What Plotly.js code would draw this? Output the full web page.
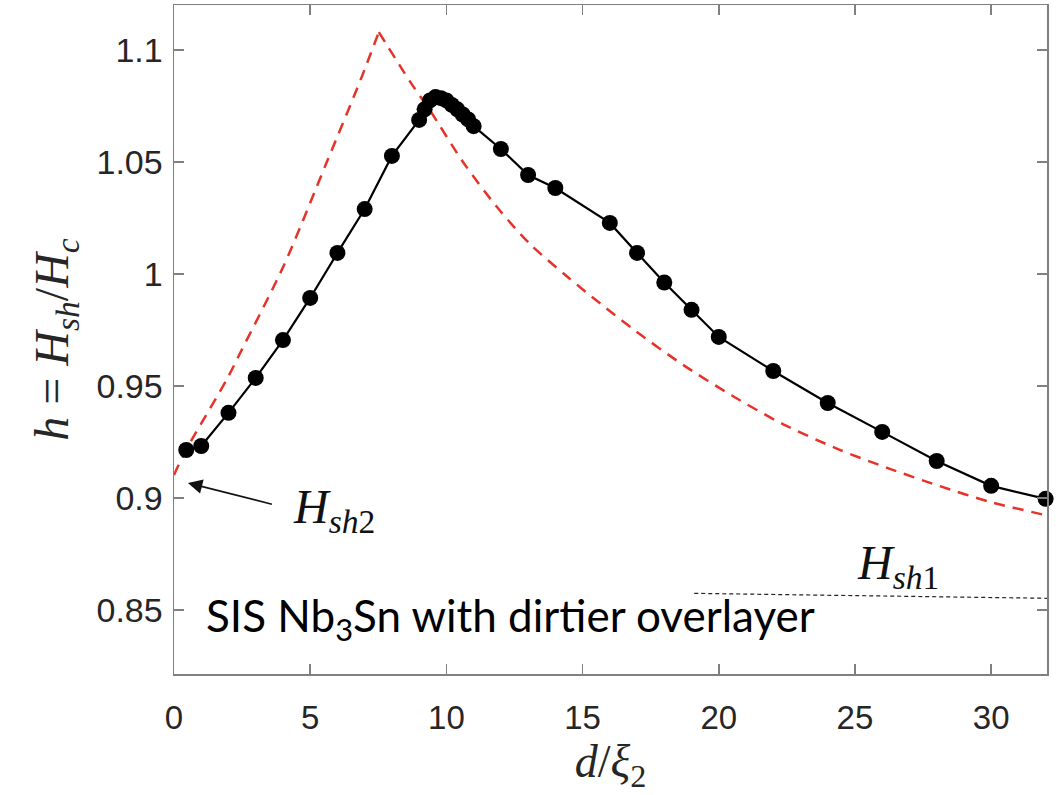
<!DOCTYPE html>
<html>
<head>
<meta charset="utf-8">
<script src="https://cdn.plot.ly/plotly-3.0.1.min.js"></script>
<style>html,body{margin:0;padding:0;background:#fff;}#chart{width:1063px;height:795px;}</style>
</head>
<body>
<div id="chart"></div>
<script>
// Simulation points (black line with markers)
const simX = [0.45, 1, 2, 3, 4, 5, 6, 7, 8, 9, 9.2, 9.4, 9.6, 9.8, 10, 10.2, 10.4, 10.6, 10.8, 11, 12, 13, 14, 16, 17, 18, 19, 20, 22, 24, 26, 28, 30, 32];
const simY = [0.9214, 0.9232, 0.938, 0.9536, 0.9705, 0.9893, 1.0094, 1.029, 1.0527, 1.0688, 1.0735, 1.0775, 1.0790, 1.0785, 1.0775, 1.0755, 1.0735, 1.0712, 1.0690, 1.0660, 1.0558, 1.0442, 1.0384, 1.0228, 1.0094, 0.9962, 0.984, 0.9719, 0.9567, 0.9424, 0.9295, 0.9165, 0.9054, 0.8996];

// Model curve (red dashed): rising branch and decaying branch
const modelRiseX = [0, 0.44, 1.94, 2.46, 4.04, 5.61, 6.86, 7.52];
const modelRiseY = [0.9103, 0.9214, 0.953, 0.9655, 1.004, 1.0500, 1.0870, 1.108];
const modelDecayX = [7.52, 8.66, 9.39, 10.61, 11.85, 13.06, 14.42, 15.63, 16.84, 18.68, 20.51, 22.35, 24.44, 26.28, 28.11, 29.94, 31.96, 32.05];
const modelDecayY = [1.108, 1.086, 1.0732, 1.0500, 1.0300, 1.0135, 0.9990, 0.9870, 0.9755, 0.9595, 0.9455, 0.9330, 0.9215, 0.9130, 0.9053, 0.8983, 0.8924, 0.8921];

// H_sh1 reference level (thin dashed)
const hsh1X = [19.1, 32.05];
const hsh1Y = [0.8574, 0.8552];

// Axis ticks
const xTicks = [0, 5, 10, 15, 20, 25, 30];
const xTickText = ['0', '5', '10', '15', '20', '25', '30'];
const yTicks = [0.85, 0.9, 0.95, 1, 1.05, 1.1];
const yTickText = ['0.85', '0.9', '0.95', '1', '1.05', '1.1'];

const axisGray = '#808080';
const redCol = '#e5332a';
const mathFont = 'Liberation Serif, DejaVu Serif, serif';

const traces = [
  {
    x: modelRiseX, y: modelRiseY, type: 'scatter', mode: 'lines',
    line: {color: redCol, width: 2.5, dash: '11px,8px', shape: 'spline', smoothing: 0.8},
    hoverinfo: 'skip', showlegend: false
  },
  {
    x: modelDecayX, y: modelDecayY, type: 'scatter', mode: 'lines',
    line: {color: redCol, width: 2.5, dash: '11px,8px', shape: 'spline', smoothing: 0.8},
    hoverinfo: 'skip', showlegend: false
  },
  {
    x: hsh1X, y: hsh1Y, type: 'scatter', mode: 'lines',
    line: {color: '#222', width: 1.2, dash: '4px,3px'},
    hoverinfo: 'skip', showlegend: false
  },
  {
    x: simX, y: simY, type: 'scatter', mode: 'lines+markers',
    line: {color: '#000', width: 2.2},
    marker: {color: '#000', size: 16, symbol: 'circle'},
    cliponaxis: false, showlegend: false
  }
];

const layout = {
  width: 1063, height: 795,
  margin: {l: 174, r: 16, t: 5, b: 121, pad: 0},
  paper_bgcolor: '#fff', plot_bgcolor: '#fff',
  showlegend: false,
  xaxis: {
    range: [0, 32.05],
    tickvals: xTicks, ticktext: xTickText,
    ticks: 'inside', ticklen: 10, tickwidth: 1.5, tickcolor: axisGray,
    showline: true, linecolor: axisGray, linewidth: 1.5, mirror: 'ticks',
    showgrid: false, zeroline: false,
    tickfont: {family: 'Liberation Sans, Arial, sans-serif', size: 33, color: '#262626'},
    ticklabelstandoff: 14,
    title: {text: '<i>d</i>/<i>ξ</i><sub>2</sub>', font: {family: mathFont, size: 46, color: '#262626'}, standoff: 2}
  },
  yaxis: {
    range: [0.8214, 1.1201],
    tickvals: yTicks, ticktext: yTickText,
    ticks: 'inside', ticklen: 10, tickwidth: 1.5, tickcolor: axisGray,
    showline: true, linecolor: axisGray, linewidth: 1.5, mirror: 'ticks',
    showgrid: false, zeroline: false,
    tickfont: {family: 'Liberation Sans, Arial, sans-serif', size: 34, color: '#262626'},
    ticklabelstandoff: 3,
    title: {text: '<i>h</i> = <i>H</i><sub><i>sh</i></sub>/<i>H</i><sub><i>c</i></sub>', font: {family: mathFont, size: 48, color: '#262626'}, standoff: 12}
  },
  annotations: [
    {
      x: 0.51, y: 0.9067, xref: 'x', yref: 'y',
      ax: 87, ay: 22, text: ' ', showarrow: true,
      arrowhead: 2, arrowsize: 1.8, arrowwidth: 1.6, arrowcolor: '#111', standoff: 0, startstandoff: 0
    },
    {
      x: 4.3, y: 0.8947, xref: 'x', yref: 'y', xanchor: 'left', yanchor: 'middle',
      text: '<i>H</i><sub><i>sh</i>2</sub>', showarrow: false,
      font: {family: mathFont, size: 48, color: '#111'}
    },
    {
      x: 25.0, y: 0.8697, xref: 'x', yref: 'y', xanchor: 'left', yanchor: 'middle',
      text: '<i>H</i><sub><i>sh</i>1</sub>', showarrow: false,
      font: {family: mathFont, size: 48, color: '#111'}
    },
    {
      x: 1.1, y: 0.8462, xref: 'x', yref: 'y', xanchor: 'left', yanchor: 'middle',
      text: 'SIS Nb<sub>3</sub>Sn with dirtier overlayer', showarrow: false,
      font: {family: 'Lato, Open Sans, sans-serif', size: 44, color: '#000'}
    }
  ]
};

Plotly.newPlot('chart', traces, layout, {displayModeBar: false, staticPlot: true});
</script>
</body>
</html>
